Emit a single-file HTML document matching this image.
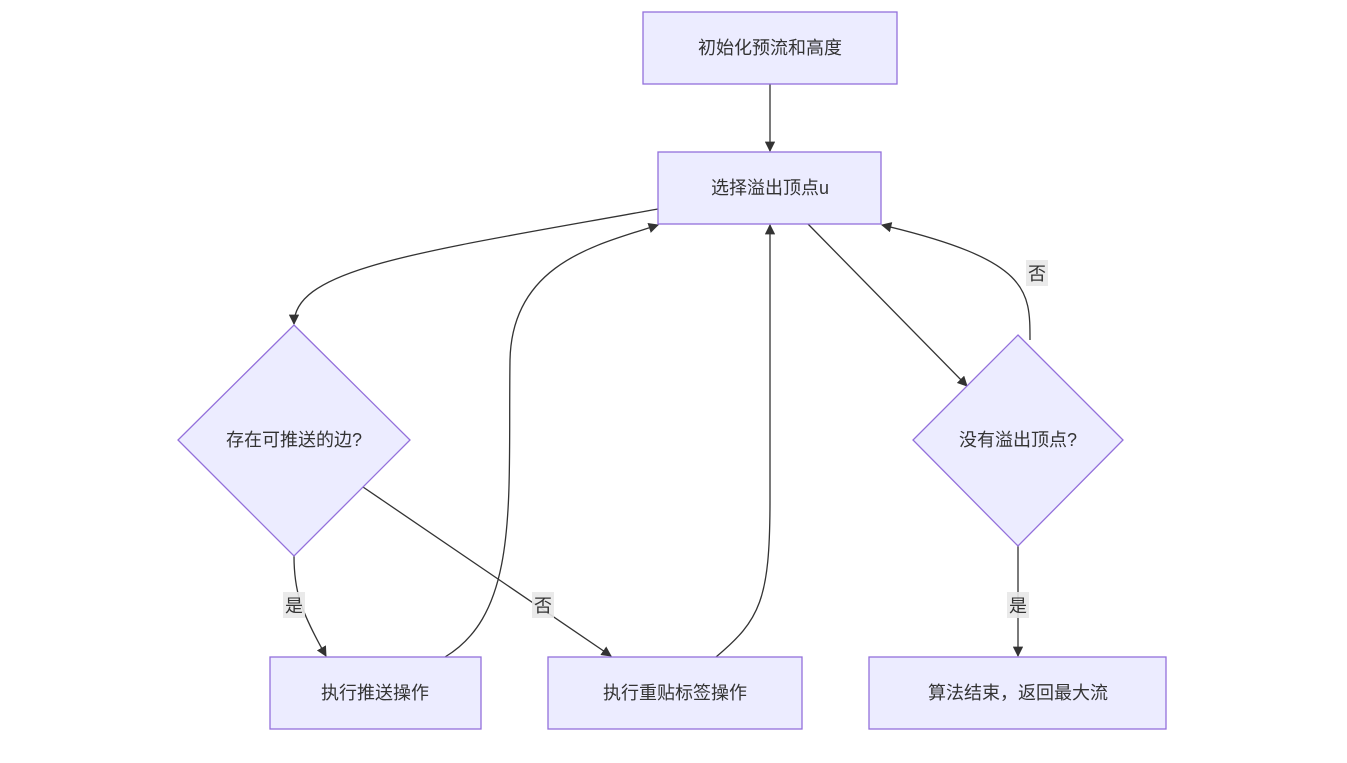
<!DOCTYPE html>
<html><head><meta charset="utf-8"><style>
html,body{margin:0;padding:0;background:#fff;}
svg{display:block;}
text{font-family:"Liberation Sans","Noto Sans CJK SC",sans-serif;font-size:18px;fill:#333;}
.n{fill:#ECECFF;stroke:#9370DB;stroke-width:1.3;}
.e{fill:none;stroke:#333;stroke-width:1.3;}
.lb{fill:#e8e8e8;opacity:0.9;}
</style></head><body>
<svg width="1347" height="763" viewBox="0 0 1347 763" xmlns="http://www.w3.org/2000/svg">
<defs><marker id="a" viewBox="0 0 10 10" refX="9" refY="5" markerWidth="8" markerHeight="8" orient="auto"><path d="M0,0L10,5L0,10z" fill="#333"/></marker></defs>
<!-- edges -->
<path class="e" marker-end="url(#a)" d="M770,84 L770,151"/>
<path class="e" marker-end="url(#a)" d="M658,209 C420,252 294,268 294,324"/>
<path class="e" marker-end="url(#a)" d="M808,224 L967,386"/>
<path class="e" marker-end="url(#a)" d="M294,556 C294,590 300,610 326,656"/>
<path class="e" marker-end="url(#a)" d="M363,487 L611,656"/>
<path class="e" marker-end="url(#a)" d="M445,657 C520,612 508,500 510,360 C512,262 600,244 658,225"/>
<path class="e" marker-end="url(#a)" d="M716,657 C760,620 770,600 770,500 L770,225"/>
<path class="e" marker-end="url(#a)" d="M1030,340 C1030,290 1030,260 882,225"/>
<path class="e" marker-end="url(#a)" d="M1018,546 L1018,656"/>
<!-- labels -->
<rect class="lb" x="283" y="592" width="22" height="26"/><text x="294" y="612" text-anchor="middle">是</text>
<rect class="lb" x="532" y="592" width="22" height="26"/><text x="543" y="612" text-anchor="middle">否</text>
<rect class="lb" x="1026" y="260" width="22" height="26"/><text x="1037" y="280" text-anchor="middle">否</text>
<rect class="lb" x="1007" y="592" width="22" height="26"/><text x="1018" y="612" text-anchor="middle">是</text>
<!-- nodes -->
<rect class="n" x="643" y="12" width="254" height="72"/><text x="770" y="54" text-anchor="middle">初始化预流和高度</text>
<rect class="n" x="658" y="152" width="223" height="72"/><text x="770" y="194" text-anchor="middle">选择溢出顶点u</text>
<polygon class="n" points="294,325 410,440 294,556 178,440"/><text x="294" y="446" text-anchor="middle">存在可推送的边?</text>
<polygon class="n" points="1018,335 1123,440 1018,546 913,440"/><text x="1018" y="446" text-anchor="middle">没有溢出顶点?</text>
<rect class="n" x="270" y="657" width="211" height="72"/><text x="375" y="699" text-anchor="middle">执行推送操作</text>
<rect class="n" x="548" y="657" width="254" height="72"/><text x="675" y="699" text-anchor="middle">执行重贴标签操作</text>
<rect class="n" x="869" y="657" width="297" height="72"/><text x="1018" y="699" text-anchor="middle">算法结束，返回最大流</text>
</svg>
</body></html>
